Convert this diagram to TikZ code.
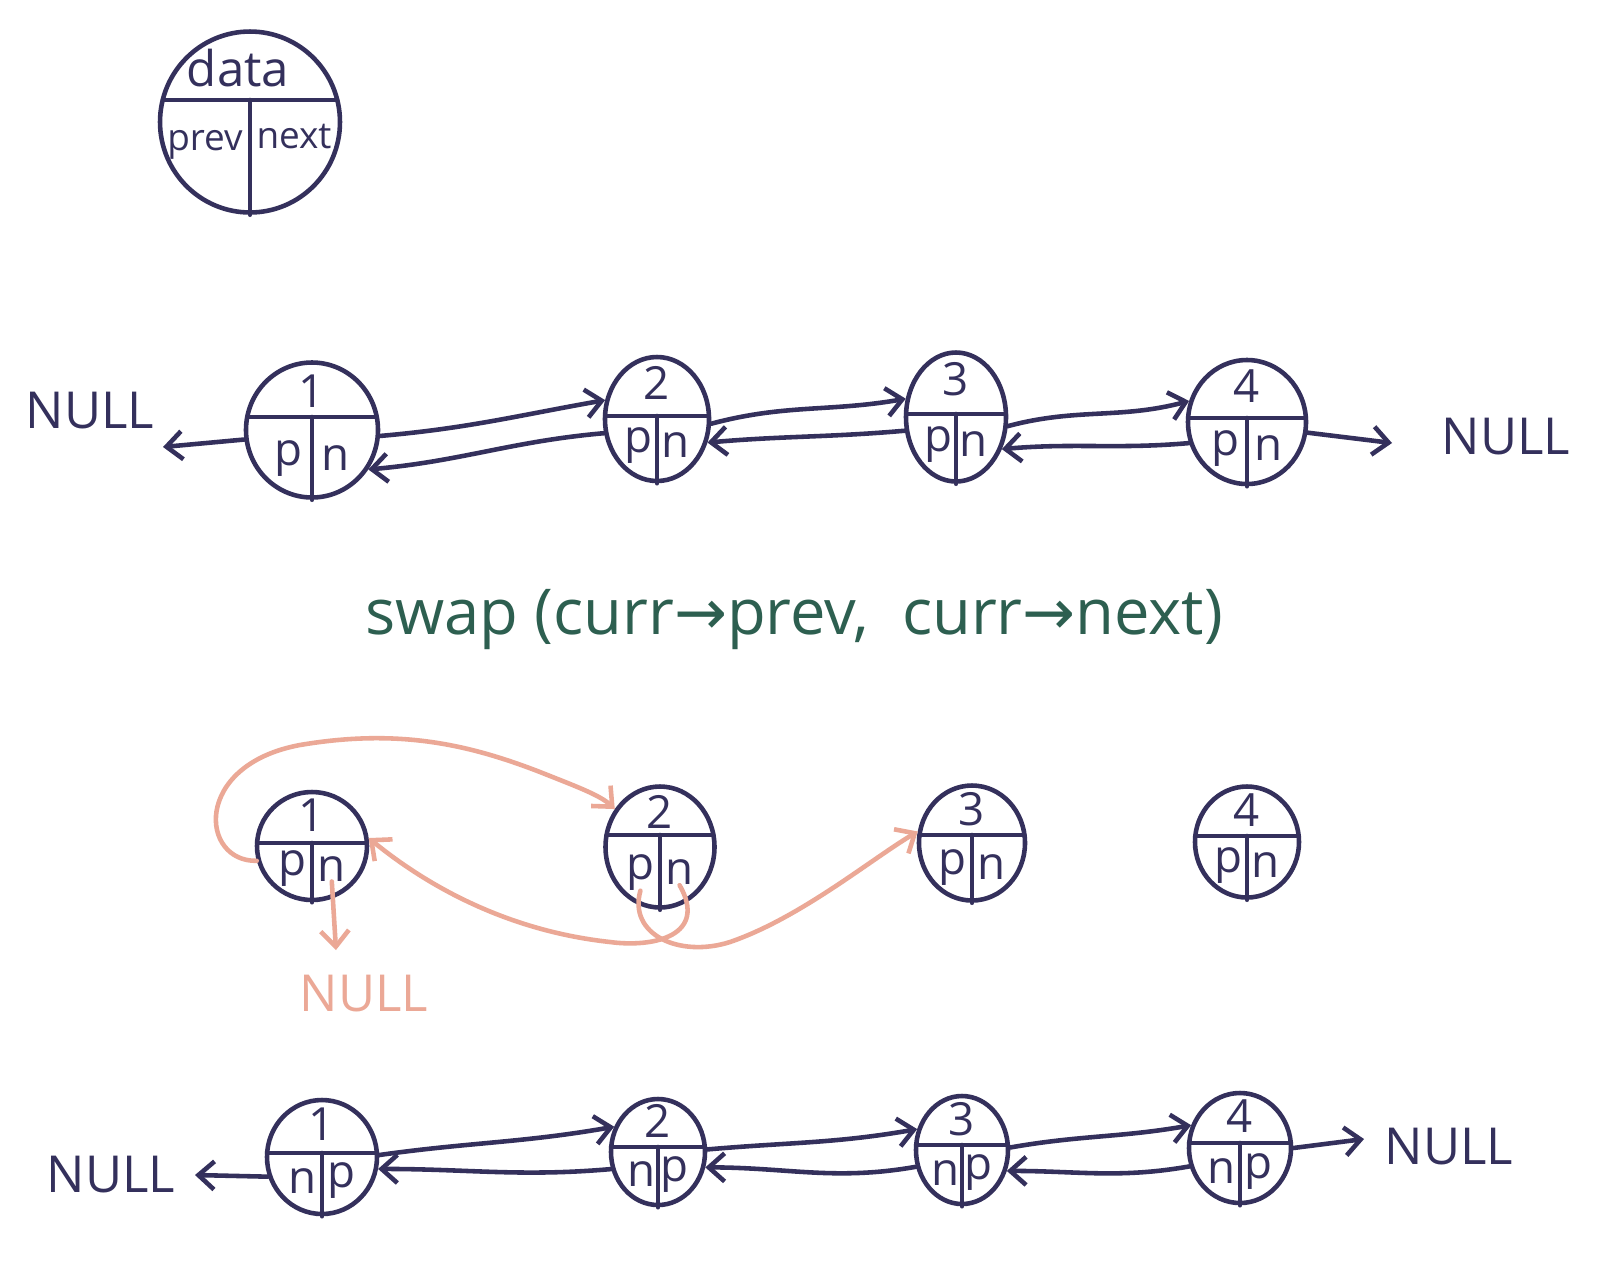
\documentclass[tikz,border=0pt]{standalone}
\usepackage{fontspec}
\setmainfont{Open Sans}
\newfontfamily\arrowfont{DejaVu Sans}
\usetikzlibrary{shapes.geometric,arrows.meta,calc}
\definecolor{ink}{HTML}{34305C}
\definecolor{pinkink}{HTML}{EBA896}
\definecolor{greenink}{HTML}{2D5F50}
\tikzset{
  inkline/.style={draw=ink, line width=2.6pt, line cap=round, line join=round},
  cell/.style={ellipse, inkline, inner sep=0pt},
  celltxt/.style={text=ink, font=\fontsize{26}{28}\selectfont, inner sep=0pt},
  nulltxt/.style={text=ink, font=\fontsize{29}{31}\selectfont, inner sep=0pt},
  arr/.style={inkline, -{Straight Barb[length=9pt,width=16pt]}},
  parr/.style={draw=pinkink, line width=2.6pt, line cap=round, line join=round, -{Straight Barb[length=9pt,width=16pt]}},
}
% name, x, y, width, height, top, left, right, divider offset (px, upwards)
\newcommand\lnodebox[9]{%
  \node[cell, minimum width=#4*0.02cm, minimum height=#5*0.02cm] (#1) at (#2,#3) {};
  \draw[inkline] ($(#1.center)+({-0.5*#4*sqrt(1-(2*#9/#5)^2)},{-#9})$) -- ($(#1.center)+({0.5*#4*sqrt(1-(2*#9/#5)^2)},{-#9})$);
  \draw[inkline] ($(#1.center)+(0,{-#9})$) -- (#1.south);
  \node[celltxt] (#1-t) at ($(#1.center)+(0,{-0.29*#5})$) {#6};
  \node[celltxt] (#1-l) at ($(#1.center)+({-0.18*#4},{0.21*#5})$) {#7};
  \node[celltxt] (#1-r) at ($(#1.center)+({0.18*#4},{0.21*#5})$) {#8};
}
\begin{document}
\begin{tikzpicture}[x=0.02cm,y=-0.02cm]
\path[use as bounding box, fill=white] (0,0) rectangle (1623,1279);

% ---------- legend ----------
\node[cell, minimum width=3.6cm, minimum height=3.62cm] (leg) at (250,122) {};
\draw[inkline] ($(leg.center)+(-87,-22)$) -- ($(leg.center)+(87,-22)$);
\draw[inkline] ($(leg.center)+(0,-22)$) -- (leg.south);
\node[text=ink, font=\fontsize{28}{30}\selectfont, inner sep=0pt] (leg-t) at (238,68) {data};
\node[text=ink, font=\fontsize{21}{23}\selectfont, inner sep=0pt] (leg-l) at (205,145) {prev};
\node[text=ink, font=\fontsize{21}{23}\selectfont, inner sep=0pt] (leg-r) at (294,137) {next};

% ---------- row 1 ----------
\lnodebox{a1}{312}{430}{132}{135}{1}{p}{n}{13}
\lnodebox{a2}{657}{419}{104}{124}{2}{p}{n}{3}
\lnodebox{a3}{956}{417}{100}{129}{3}{p}{n}{3}
\lnodebox{a4}{1247}{422}{118}{124}{4}{p}{n}{4}
\node[nulltxt] (nullA) at (90,411) {NULL};
\node[nulltxt] (nullB) at (1506,437) {NULL};
\coordinate (cA) at (163,447);
\coordinate (cB) at (1392,443);
\draw[arr] (a1.188) -- (cA);
\draw[arr] (a1.-5) to[out=5,in=190] (a2.160);
\draw[arr] (a2.195) to[out=185,in=5] (a1.-35);
\draw[arr] (a2.-5) to[out=15,in=190] (a3.160);
\draw[arr] (a3.195) to[out=185,in=5] (a2.-25);
\draw[arr] (a3.-10) to[out=15,in=195] (a4.160);
\draw[arr] (a4.200) to[out=185,in=5] (a3.-35);
\draw[arr] (a4.-10) -- (cB);

% ---------- swap ----------
\node[text=greenink, font=\fontsize{36}{38}\selectfont, inner sep=0pt] (swap) at (794,620)
  {swap (curr{\arrowfont→}prev,\ \ curr{\arrowfont→}next)};

% ---------- row 2 ----------
\lnodebox{d1}{312}{846}{110}{108}{1}{p}{n}{3}
\lnodebox{d2}{660}{847}{109}{121}{2}{p}{n}{12}
\lnodebox{d3}{972}{843}{106}{115}{3}{p}{n}{8}
\lnodebox{d4}{1247}{842}{104}{111}{4}{p}{n}{6}
\node[text=pinkink, font=\fontsize{29}{31}\selectfont, inner sep=0pt] (nullP) at (364,994) {NULL};
\coordinate (cP) at (336,950);
\draw[parr] (d1.195) .. controls (200,862) and (192,765) .. (300,745)
   .. controls (400,728) and (470,745) .. (540,772)
   .. controls (575,786) and (600,795) .. (d2.140);
\draw[parr] (d1-r.south) -- (cP);
\draw[parr] (d2-r.south) .. controls (708,935) and (655,948) .. (610,942)
   .. controls (500,930) and (420,880) .. (d1.8);
\draw[parr] (d2-l.south) .. controls (628,935) and (680,958) .. (730,942)
   .. controls (800,918) and (870,860) .. (d3.168);

% ---------- row 3 ----------
\lnodebox{b1}{322}{1157}{110}{114}{1}{n}{p}{4}
\lnodebox{b2}{658}{1152}{94}{106}{2}{n}{p}{5}
\lnodebox{b3}{962}{1150}{92}{108}{3}{n}{p}{5}
\lnodebox{b4}{1240}{1148}{102}{110}{4}{n}{p}{5}
\node[nulltxt] (nullC) at (111,1175) {NULL};
\node[nulltxt] (nullD) at (1449,1147) {NULL};
\coordinate (cC) at (195,1175);
\coordinate (cD) at (1364,1139);
\draw[arr] (b1.200) -- (cC);
\draw[arr] (b1.2) to[out=8,in=190] (b2.150);
\draw[arr] (b2.200) to[out=185,in=0] (b1.-12);
\draw[arr] (b2.3) to[out=5,in=190] (b3.155);
\draw[arr] (b3.200) to[out=190,in=0] (b2.-18);
\draw[arr] (b3.3) to[out=10,in=190] (b4.155);
\draw[arr] (b4.200) to[out=190,in=0] (b3.-25);
\draw[arr] (b4.0) -- (cD);
\end{tikzpicture}
\end{document}
